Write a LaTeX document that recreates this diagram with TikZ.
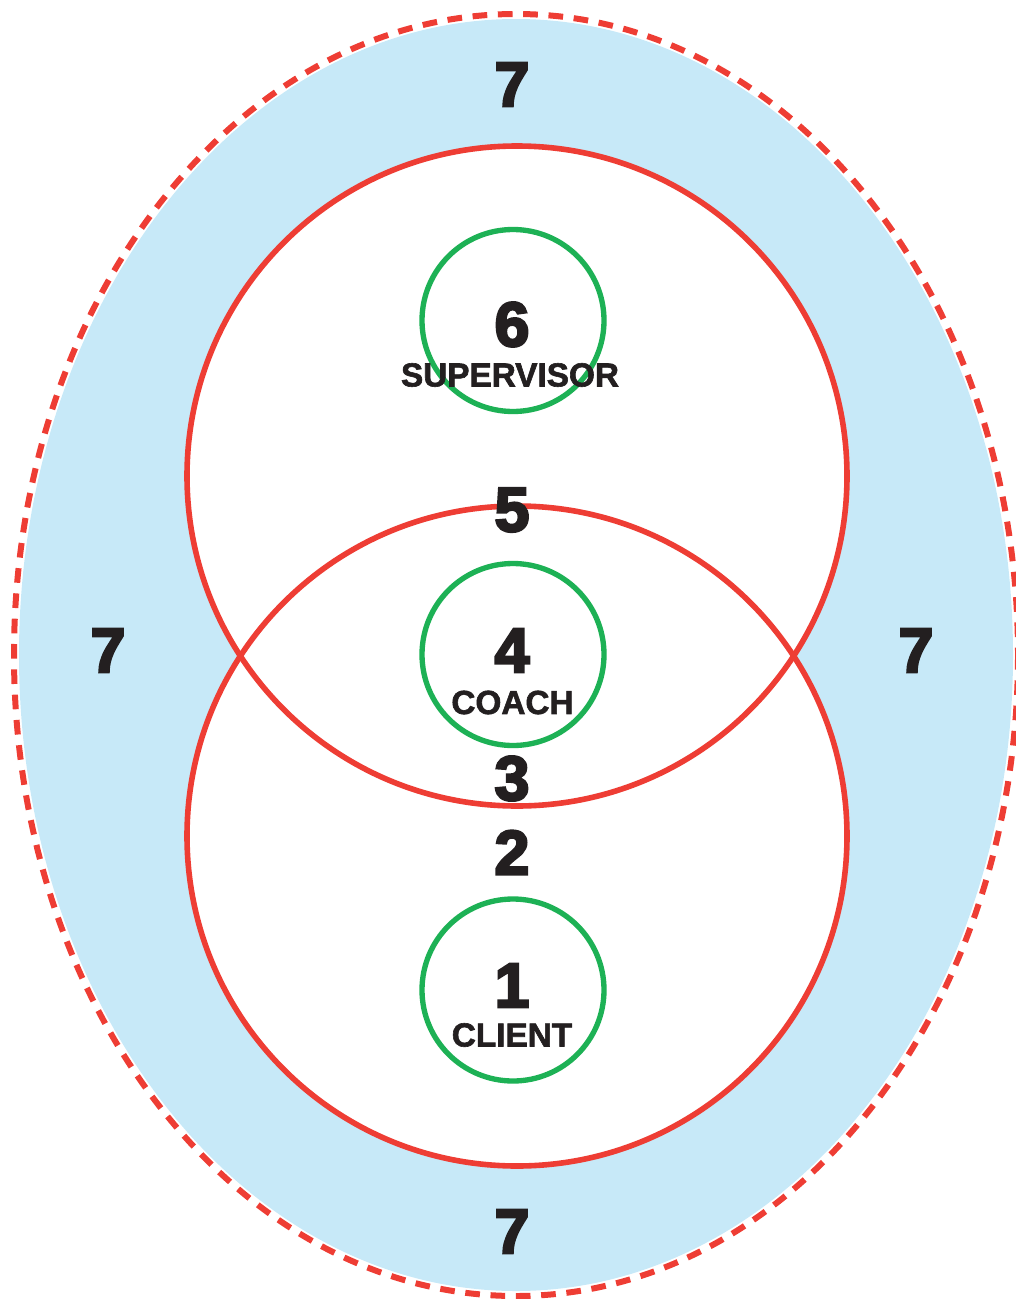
\documentclass[tikz,border=0pt]{standalone}
\usepackage{fontspec}
\setmainfont{Liberation Sans}[BoldFeatures={FakeBold=1.8}]
\newfontfamily\heavyfont{Liberation Sans Bold}[FakeBold=4]
\definecolor{ringred}{HTML}{EE3D34}
\definecolor{ringgreen}{HTML}{1DB155}
\definecolor{skyblue}{HTML}{C7E9F8}
\definecolor{inkblack}{HTML}{231F20}
\tikzset{
  numlabel/.style={inner sep=0pt, text=inkblack, font=\heavyfont\fontsize{47pt}{47pt}\selectfont},
  rolelabel/.style={inner sep=0pt, text=inkblack, font=\bfseries\fontsize{25pt}{25pt}\selectfont},
  redring/.style={draw=ringred, line width=4.2pt},
  greenring/.style={draw=ringgreen, line width=4pt},
}
\begin{document}
\begin{tikzpicture}[x=0.75pt, y=-0.75pt]
\useasboundingbox (0,0) rectangle (1016,1299);
% outer zone
\fill[skyblue] (516,655) ellipse [x radius=497, y radius=636];
\draw[ringred, line width=4.5pt, dash pattern=on 11pt off 8pt] (516,655) ellipse [x radius=502, y radius=641];
% white interiors of the two red circles
\fill[white] (517,476) circle [radius=330];
\fill[white] (517,836) circle [radius=330];
\draw[redring] (517,476) circle [radius=330];
\draw[redring] (517,836) circle [radius=330];
% green circles
\node[greenring, circle, minimum size=182*0.75pt, inner sep=0pt] (g6) at (513,320.5) {};
\node[greenring, circle, minimum size=182*0.75pt, inner sep=0pt] (g4) at (513,654.5) {};
\node[greenring, circle, minimum size=182*0.75pt, inner sep=0pt] (g1) at (513,990) {};
% numbers
\node[numlabel] (n7t) at (512,84.5) {7};
\node[numlabel] (n7l) at (108,650.5) {7};
\node[numlabel] (n7r) at (916,650.5) {7};
\node[numlabel] (n7b) at (512,1231.5) {7};
\node[numlabel] (n6) at (512,324.5) {6};
\node[rolelabel] (sup) at (510,375) {SUPERVISOR};
\node[numlabel] (n5) at (512,510) {5};
\node[numlabel] (n4) at (512,650.5) {4};
\node[rolelabel] (coach) at (512.5,702.5) {COACH};
\node[numlabel] (n3) at (512,778.5) {3};
\node[numlabel] (n2) at (512,852.5) {2};
\node[numlabel] (n1) at (512,985.5) {1};
\node[rolelabel] (client) at (512,1035) {CLIENT};
\end{tikzpicture}
\end{document}
